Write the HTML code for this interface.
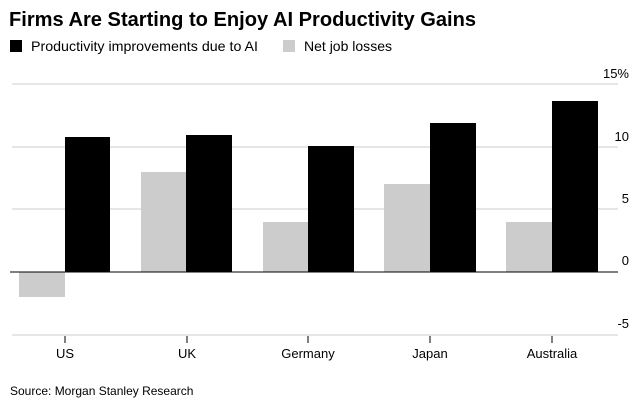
<!DOCTYPE html>
<html><head><meta charset="utf-8"><style>
body{margin:0;background:#fff;width:644px;height:410px;overflow:hidden;font-family:"Liberation Sans",sans-serif;}
</style></head><body>
<svg width="644" height="410" xmlns="http://www.w3.org/2000/svg" font-family="Liberation Sans, sans-serif">
<text x="9" y="26" font-size="20" font-weight="bold" fill="#000" textLength="467" lengthAdjust="spacingAndGlyphs">Firms Are Starting to Enjoy AI Productivity Gains</text>
<rect x="10" y="40" width="12" height="12" fill="#000"/>
<text x="31" y="51" font-size="14" fill="#000" textLength="227" lengthAdjust="spacingAndGlyphs">Productivity improvements due to AI</text>
<rect x="283" y="40" width="12" height="12" fill="#ccc"/>
<text x="304" y="51" font-size="14" fill="#000" textLength="88" lengthAdjust="spacingAndGlyphs">Net job losses</text>
<g stroke="#ddd" stroke-width="1.5">
<line x1="12" x2="618" y1="84" y2="84"/>
<line x1="12" x2="618" y1="147" y2="147"/>
<line x1="12" x2="618" y1="209" y2="209"/>
<line x1="12" x2="618" y1="335" y2="335"/>
</g>
<g fill="#ccc">
<rect x="19" y="272" width="46" height="25"/>
<rect x="141" y="172" width="45" height="100"/>
<rect x="263" y="222" width="45" height="50"/>
<rect x="384" y="184" width="46" height="88"/>
<rect x="506" y="222" width="46" height="50"/>
</g>
<g fill="#000">
<rect x="65" y="137" width="45" height="135"/>
<rect x="186" y="135" width="46" height="137"/>
<rect x="308" y="146" width="46" height="126"/>
<rect x="430" y="123" width="46" height="149"/>
<rect x="552" y="101" width="46" height="171"/>
</g>
<line x1="10" x2="618" y1="272" y2="272" stroke="#000" stroke-width="1"/>
<g stroke="#000" stroke-width="1">
<line x1="65" x2="65" y1="336" y2="343"/>
<line x1="187" x2="187" y1="336" y2="343"/>
<line x1="308" x2="308" y1="336" y2="343"/>
<line x1="430" x2="430" y1="336" y2="343"/>
<line x1="552" x2="552" y1="336" y2="343"/>
</g>
<g font-size="13" fill="#000" text-anchor="middle">
<text x="65" y="358">US</text>
<text x="187" y="358">UK</text>
<text x="308" y="358">Germany</text>
<text x="430" y="358">Japan</text>
<text x="552" y="358">Australia</text>
</g>
<g font-size="13" fill="#000" text-anchor="end">
<text x="629" y="78">15%</text>
<text x="629" y="141">10</text>
<text x="629" y="203">5</text>
<text x="629" y="265">0</text>
<text x="629" y="328">-5</text>
</g>
<text x="10" y="395" font-size="12" fill="#000">Source: Morgan Stanley Research</text>
</svg>
</body></html>
